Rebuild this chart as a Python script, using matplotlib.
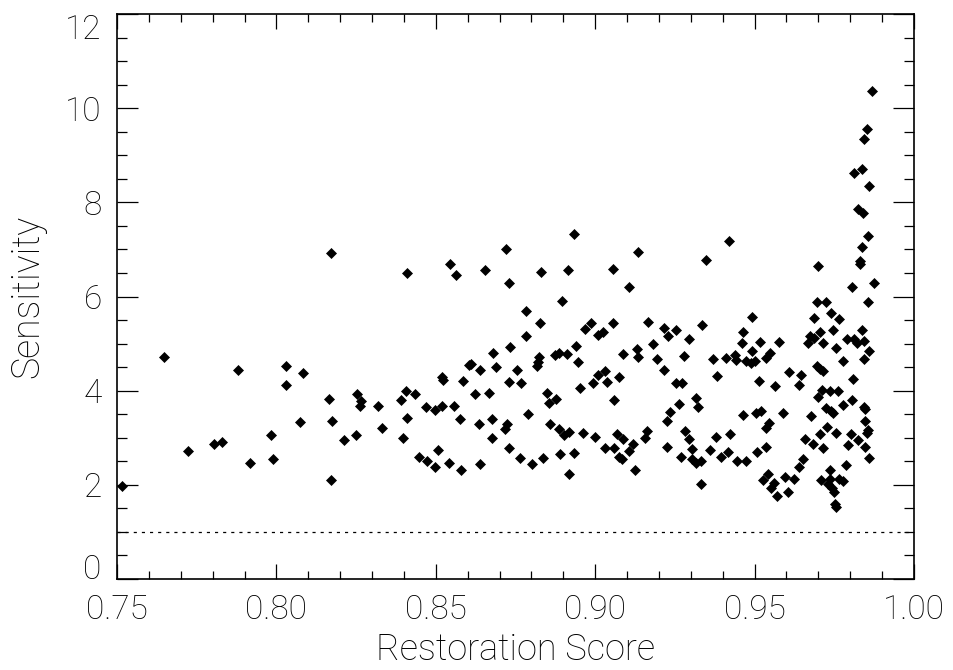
import matplotlib
matplotlib.use('Agg')
import matplotlib.pyplot as plt
from matplotlib.ticker import MultipleLocator

# Restoration score vs sensitivity
restoration_score = [
    0.7516, 0.7647, 0.7723, 0.7804, 0.7829, 0.7880, 0.7917, 0.7983, 0.7989, 0.8030,
    0.8030, 0.8074, 0.8083, 0.8171, 0.8410, 0.8545, 0.8563, 0.8604, 0.8639, 0.8165,
    0.8253, 0.8265, 0.8262, 0.8319, 0.8407, 0.8435, 0.8391, 0.8520, 0.8523, 0.8585,
    0.8623, 0.8469, 0.8498, 0.8519, 0.8557, 0.8576, 0.8636, 0.8174, 0.8212, 0.8250,
    0.8331, 0.8410, 0.8397, 0.8447, 0.8472, 0.8498, 0.8507, 0.8541, 0.8579, 0.8639,
    0.8171, 0.8934, 0.8720, 0.8654, 0.8730, 0.8830, 0.8915, 0.9056, 0.9134, 0.9106,
    0.8896, 0.8783, 0.8827, 0.8783, 0.8968, 0.8987, 0.9009, 0.9025, 0.9056, 0.8940,
    0.9087, 0.9131, 0.9134, 0.8733, 0.8680, 0.8610, 0.8689, 0.8755, 0.8730, 0.8767,
    0.8824, 0.8821, 0.8818, 0.8874, 0.8887, 0.8912, 0.8946, 0.9009, 0.9031, 0.8993,
    0.9037, 0.9075, 0.8952, 0.9059, 0.8667, 0.8849, 0.8877, 0.8855, 0.8789, 0.8676,
    0.8723, 0.8717, 0.8676, 0.8858, 0.8887, 0.8902, 0.8918, 0.8962, 0.8999, 0.9069,
    0.9087, 0.9031, 0.9059, 0.9119, 0.9106, 0.9075, 0.9084, 0.8730, 0.8764, 0.8802,
    0.8836, 0.8890, 0.8934, 0.8918, 0.9125, 0.9420, 0.9348, 0.9166, 0.9216, 0.9229,
    0.9254, 0.9294, 0.9335, 0.9492, 0.9464, 0.9461, 0.9517, 0.9577, 0.9181, 0.9194,
    0.9279, 0.9216, 0.9370, 0.9410, 0.9439, 0.9442, 0.9473, 0.9489, 0.9501, 0.9492,
    0.9536, 0.9548, 0.9382, 0.9514, 0.9564, 0.9254, 0.9272, 0.9316, 0.9323, 0.9263,
    0.9235, 0.9225, 0.9464, 0.9505, 0.9520, 0.9545, 0.9536, 0.9282, 0.9294, 0.9304,
    0.9163, 0.9156, 0.9225, 0.9269, 0.9304, 0.9316, 0.9332, 0.9379, 0.9423, 0.9360,
    0.9395, 0.9417, 0.9445, 0.9473, 0.9508, 0.9536, 0.9332, 0.9542, 0.9527, 0.9561,
    0.9552, 0.9570, 0.9806, 0.9875, 0.9696, 0.9724, 0.9856, 0.9740, 0.9765, 0.9687,
    0.9705, 0.9746, 0.9674, 0.9687, 0.9668, 0.9715, 0.9756, 0.9790, 0.9812, 0.9821,
    0.9837, 0.9843, 0.9859, 0.9843, 0.9777, 0.9608, 0.9646, 0.9639, 0.9696, 0.9705,
    0.9715, 0.9809, 0.9712, 0.9737, 0.9762, 0.9699, 0.9806, 0.9777, 0.9843, 0.9847,
    0.9724, 0.9740, 0.9746, 0.9589, 0.9677, 0.9847, 0.9856, 0.9853, 0.9727, 0.9705,
    0.9756, 0.9803, 0.9825, 0.9793, 0.9847, 0.9859, 0.9658, 0.9683, 0.9715, 0.9652,
    0.9639, 0.9787, 0.9737, 0.9708, 0.9737, 0.9765, 0.9777, 0.9730, 0.9743, 0.9749,
    0.9756, 0.9752, 0.9595, 0.9624, 0.9605, 0.9868, 0.9853, 0.9843, 0.9837, 0.9812,
    0.9859, 0.9825, 0.9840, 0.9856, 0.9837, 0.9831, 0.9831, 0.9699,
]
sensitivity = [
    1.98, 4.72, 2.72, 2.87, 2.91, 4.44, 2.46, 3.06, 2.55, 4.52,
    4.12, 3.33, 4.38, 6.92, 6.50, 6.69, 6.46, 4.55, 4.44, 3.82,
    3.93, 3.78, 3.67, 3.67, 3.99, 3.93, 3.80, 4.29, 4.23, 4.21,
    3.93, 3.65, 3.59, 3.67, 3.67, 3.40, 3.29, 3.36, 2.95, 3.06,
    3.21, 3.42, 2.99, 2.59, 2.51, 2.38, 2.74, 2.46, 2.32, 2.44,
    2.10, 7.33, 7.01, 6.56, 6.29, 6.52, 6.56, 6.58, 6.95, 6.20,
    5.90, 5.69, 5.44, 5.16, 5.31, 5.44, 5.18, 5.25, 5.44, 4.95,
    4.78, 4.89, 4.72, 4.93, 4.80, 4.57, 4.50, 4.44, 4.18, 4.16,
    4.72, 4.61, 4.52, 4.76, 4.80, 4.78, 4.61, 4.33, 4.42, 4.16,
    4.18, 4.29, 4.06, 3.80, 3.95, 3.95, 3.82, 3.74, 3.50, 3.40,
    3.29, 3.19, 2.99, 3.29, 3.19, 3.06, 3.12, 3.10, 3.02, 3.08,
    2.97, 2.78, 2.78, 2.87, 2.72, 2.59, 2.55, 2.78, 2.57, 2.44,
    2.57, 2.66, 2.68, 2.23, 2.32, 7.18, 6.78, 5.46, 5.33, 5.16,
    5.29, 5.10, 5.40, 5.57, 5.25, 5.01, 5.03, 5.03, 4.99, 4.67,
    4.74, 4.44, 4.67, 4.69, 4.76, 4.65, 4.63, 4.59, 4.63, 4.84,
    4.69, 4.80, 4.31, 4.21, 4.10, 4.16, 4.16, 3.84, 3.65, 3.72,
    3.55, 3.36, 3.48, 3.53, 3.57, 3.31, 3.21, 3.14, 2.97, 2.76,
    3.14, 2.99, 2.80, 2.59, 2.55, 2.46, 2.51, 3.02, 3.08, 2.74,
    2.59, 2.70, 2.51, 2.51, 2.70, 2.80, 2.02, 2.23, 2.10, 2.04,
    1.93, 1.76, 6.20, 6.29, 5.88, 5.88, 5.88, 5.65, 5.52, 5.54,
    5.25, 5.29, 5.16, 5.12, 5.01, 5.01, 4.91, 5.10, 5.10, 5.01,
    5.29, 5.06, 4.84, 4.67, 4.63, 4.40, 4.33, 4.12, 4.52, 4.46,
    4.42, 4.25, 4.01, 3.99, 3.99, 3.87, 3.80, 3.70, 3.65, 3.61,
    3.63, 3.57, 3.53, 3.53, 3.46, 3.36, 3.16, 3.10, 3.23, 3.08,
    3.10, 3.08, 2.95, 2.85, 2.80, 2.57, 2.97, 2.87, 2.78, 2.55,
    2.38, 2.42, 2.32, 2.10, 2.12, 2.12, 2.08, 2.02, 1.93, 1.85,
    1.53, 1.59, 2.17, 2.12, 1.85, 10.37, 9.56, 9.35, 8.71, 8.62,
    8.35, 7.86, 7.77, 7.29, 7.05, 6.75, 6.69, 6.65,
]
reference_level = 1.0
y_min, y_max = 0, 12

plt.rcParams['font.family'] = ['Roboto', 'DejaVu Sans']
plt.rcParams['font.weight'] = 'light'
plt.rcParams['axes.labelweight'] = 'light'

fig = plt.figure(figsize=(9.54, 6.70), dpi=100)
ax = fig.add_axes([117 / 954, 91 / 670, 797 / 954, 565 / 670])

ax.plot(restoration_score, sensitivity, linestyle='none', marker='D',
        markersize=5.2, markerfacecolor='black', markeredgecolor='black',
        markeredgewidth=0.5)
ax.axhline(reference_level, color='black', linewidth=0.9, linestyle=(0, (2.5, 4)))

ax.set_xlim(0.75, 1.00)
ax.set_ylim(y_min, y_max)
ax.xaxis.set_major_locator(MultipleLocator(0.05))
ax.xaxis.set_minor_locator(MultipleLocator(0.01))
ax.yaxis.set_major_locator(MultipleLocator(2))
ax.yaxis.set_minor_locator(MultipleLocator(0.5))
ax.xaxis.set_major_formatter(plt.FormatStrFormatter('%.2f'))
ax.yaxis.set_major_formatter(plt.FormatStrFormatter('%d'))

ax.tick_params(which='both', direction='in', top=True, right=True,
               width=0.9, labelsize=24, colors='black')
ax.tick_params(axis='x', which='major', length=11, pad=11)
ax.tick_params(axis='x', which='minor', length=5.5)
ax.tick_params(axis='y', which='major', length=15, pad=11)
ax.tick_params(axis='y', which='minor', length=7.5)
for s in ax.spines.values():
    s.set_linewidth(1.2)

ax.set_xlabel('Restoration Score', fontsize=26, labelpad=4)
ax.set_ylabel('Sensitivity', fontsize=27, labelpad=14)

# keep the end labels of the y axis inside the box, as in the original
fig.canvas.draw()
for loc, tick in zip(ax.yaxis.get_majorticklocs(), ax.yaxis.get_major_ticks()):
    if abs(loc - y_min) < 1e-9:
        tick.label1.set_verticalalignment('baseline')
    elif abs(loc - y_max) < 1e-9:
        tick.label1.set_verticalalignment('top')

fig.savefig('out.png', dpi=100)
